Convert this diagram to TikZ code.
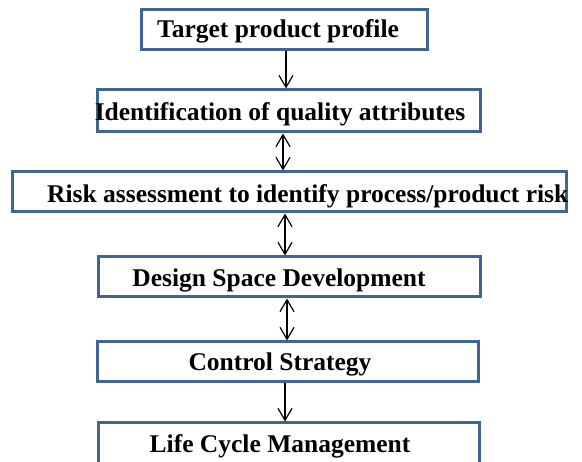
\documentclass[tikz,border=0pt]{standalone}
\usepackage{fontspec}
\setmainfont{Liberation Serif}
\usetikzlibrary{arrows.meta}
\definecolor{stageblue}{RGB}{64,100,148}

\begin{document}
\begin{tikzpicture}[x=1pt,y=-1pt]
\tikzset{StageStyle/.style =
	{draw = stageblue,
		line width = 3pt,
		minimum height = 40pt,
		inner sep = 0pt},
	LabelStyle/.style = {inner sep=0pt, font=\bfseries\fontsize{25.5}{30}\selectfont},
	FlowStyle/.style = {line width=1.2pt, -{Straight Barb[length=12pt,width=14pt]}},
	BothStyle/.style = {line width=1.2pt, {Straight Barb[length=12pt,width=14pt]}-{Straight Barb[length=12pt,width=14pt]}}}
\useasboundingbox (0,0) rectangle (582,462);
% boxes
\node[StageStyle, minimum width=286pt] (TPP) at (284,30) {};
\node[StageStyle, minimum width=383pt, minimum height=42pt] (QA) at (288.5,111) {};
\node[StageStyle, minimum width=554pt] (RA) at (289,192) {};
\node[StageStyle, minimum width=382pt] (DS) at (289,277) {};
\node[StageStyle, minimum width=381pt] (CS) at (287.5,362) {};
\node[StageStyle, minimum width=381pt, minimum height=44pt] (LCM) at (288.5,445) {};
% texts
\node[LabelStyle] (TPPtext) at (278,31) {Target product profile};
\node[LabelStyle] (QAtext) at (280,114) {Identification of quality attributes};
\node[LabelStyle, anchor=west] (RAtext) at (47,196) {Risk assessment to identify process/product risk};
\node[LabelStyle] (DStext) at (279,280) {Design Space Development};
\node[LabelStyle] (CStext) at (280,364) {Control Strategy};
\node[LabelStyle] (LCMtext) at (280,446) {Life Cycle Management};
% connectors
\draw[FlowStyle] (TPP.south -| 286,0) -- (QA.north -| 286,0);
\draw[BothStyle] (QA.south -| 283,0) -- (RA.north -| 283,0);
\draw[BothStyle] (RA.south -| 285,0) -- (DS.north -| 285,0);
\draw[BothStyle] (DS.south -| 287,0) -- (CS.north -| 287,0);
\draw[FlowStyle] (CS.south -| 285,0) -- (LCM.north -| 285,0);
\end{tikzpicture}
\end{document}
